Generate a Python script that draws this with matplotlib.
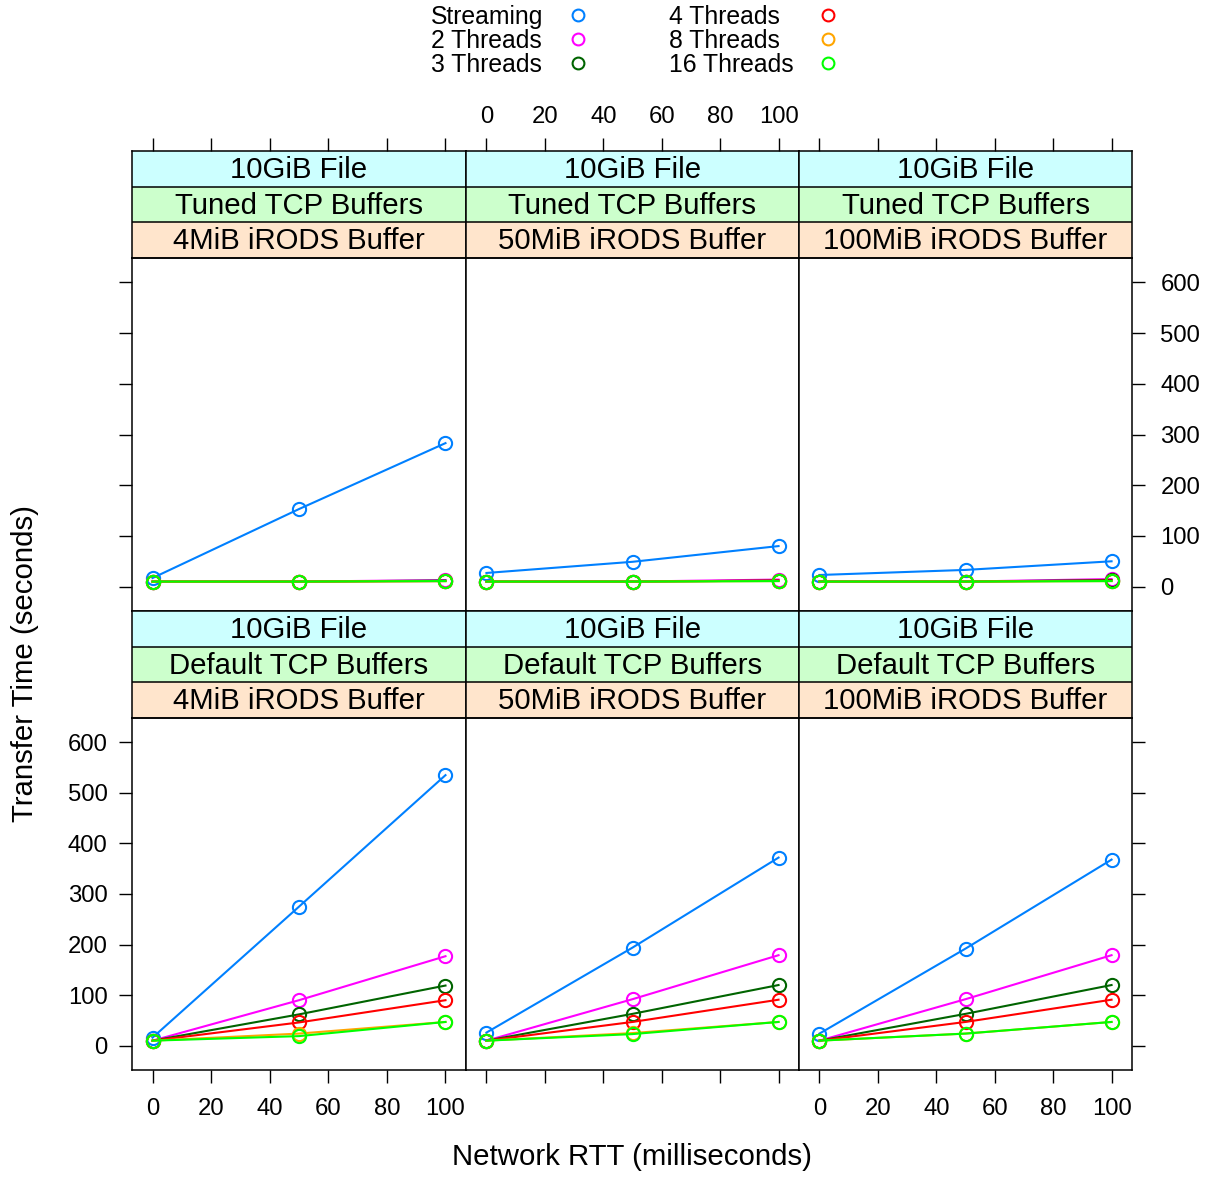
import matplotlib
matplotlib.use("Agg")
import matplotlib.pyplot as plt
from matplotlib.lines import Line2D

plt.rcParams['font.family'] = ['Liberation Sans', 'DejaVu Sans']

# network RTT (ms) on the x axis
rtt = [0, 50, 100]

# panel order: tuned 4/50/100 MiB, then default 4/50/100 MiB
tcp_labels = ['Tuned TCP Buffers', 'Tuned TCP Buffers', 'Tuned TCP Buffers',
              'Default TCP Buffers', 'Default TCP Buffers', 'Default TCP Buffers']
irods_labels = ['4MiB iRODS Buffer', '50MiB iRODS Buffer', '100MiB iRODS Buffer',
                '4MiB iRODS Buffer', '50MiB iRODS Buffer', '100MiB iRODS Buffer']
file_label = '10GiB File'

# transfer time (s), one row per panel
streaming = [[17, 153, 283], [27, 49, 80], [23, 33, 50],
             [16, 275, 535], [26, 194, 372], [24, 192, 368]]
threads2 = [[10, 10, 13], [10, 10, 14], [10, 10, 15],
            [10, 90, 177], [10, 92, 179], [10, 92, 179]]
threads3 = [[10, 10, 12], [10, 10, 12], [10, 10, 13],
            [10, 62, 119], [10, 63, 120], [10, 63, 120]]
threads4 = [[10, 10, 11], [10, 10, 12], [10, 10, 12],
            [10, 46, 90], [10, 47, 91], [10, 47, 91]]
threads8 = [[10, 10, 11], [10, 10, 11], [10, 10, 11],
            [10, 24, 47], [10, 25, 47], [10, 24, 47]]
threads16 = [[10, 10, 11], [10, 10, 11], [10, 10, 11],
             [10, 19, 47], [10, 23, 47], [10, 24, 47]]

series_names = ['Streaming', '2 Threads', '3 Threads', '4 Threads', '8 Threads', '16 Threads']
series_data = [streaming, threads2, threads3, threads4, threads8, threads16]
colors = ['#0080ff', '#ff00ff', '#006400', '#ff0000', '#ffa500', '#00ff00']

strip_colors = ['#ccffff', '#ccffcc', '#ffe5cc']
xticks = [0, 20, 40, 60, 80, 100]
yticks = [0, 100, 200, 300, 400, 500, 600]
XLIM = (-7, 107)
YLIM = (-48, 648)

W, H = 1211, 1178
fig = plt.figure(figsize=(W / 100, H / 100), dpi=100)


def add_ax(x0, y0, x1, y1):
    return fig.add_axes([x0 / W, 1 - y1 / H, (x1 - x0) / W, (y1 - y0) / H])


cols = [132, 466, 799, 1132]
rows = [(151, 258, 611), (611, 718, 1070)]  # strip top, panel top, panel bottom
tick_fs = 17.2
strip_fs = 21.2
leg_fs = 17.8
tick_kw = dict(direction='out', length=9.5, width=1, labelsize=tick_fs, colors='black')

for r, (s_top, p_top, p_bot) in enumerate(rows):
    for c in range(3):
        k = r * 3 + c
        ax = add_ax(cols[c], p_top, cols[c + 1], p_bot)
        for name, data, col in zip(series_names, series_data, colors):
            ax.plot(rtt, data[k], color=col, lw=1.5, marker='o', ms=9.5,
                    mfc='none', mec=col, mew=1.5)
        ax.set_xlim(*XLIM)
        ax.set_ylim(*YLIM)
        for sp in ax.spines.values():
            sp.set_linewidth(1.1)
        ax.tick_params(**tick_kw)

        # x ticks
        ax.set_xticks(xticks)
        if r == 1:
            ax.tick_params(axis='x', bottom=True, labelbottom=(c != 1), top=False, pad=10.5)
        else:
            ax.tick_params(axis='x', bottom=False, labelbottom=False, top=False)

        # y ticks: labels on the right for the top row, on the left for the bottom row
        ax.set_yticks(yticks)
        ax.tick_params(axis='y', left=(c == 0), right=(c == 2), pad=(11 if r == 0 else 8),
                       labelleft=(c == 0 and r == 1), labelright=(c == 2 and r == 0))

        # strips
        sax = add_ax(cols[c], s_top, cols[c + 1], p_top)
        sax.set_xlim(*XLIM)
        sax.set_ylim(0, 3)
        labels = [file_label, tcp_labels[k], irods_labels[k]]
        for i, (lab, sc) in enumerate(zip(labels, strip_colors)):
            y0 = 2 - i
            sax.axhspan(y0, y0 + 1, color=sc, lw=0)
            sax.axhline(y0, color='black', lw=1.1)
            sax.text(50, y0 + 0.47, lab, ha='center', va='center', fontsize=strip_fs)
        for sp in sax.spines.values():
            sp.set_linewidth(1.1)
        sax.set_yticks([])
        sax.tick_params(**tick_kw)
        sax.set_xticks(xticks)
        if r == 0:
            sax.tick_params(axis='x', top=True, labeltop=(c == 1), bottom=False,
                            labelbottom=False, pad=7)
        else:
            sax.tick_params(axis='x', top=False, labeltop=False, bottom=False, labelbottom=False)

# legend (key) on top
leg_text_x = [431, 669]
leg_mark_x = [578, 828]
leg_row_y = [17, 41, 65]
for i, (name, col) in enumerate(zip(series_names, colors)):
    cc, rr = divmod(i, 3)
    fig.text(leg_text_x[cc] / W, 1 - leg_row_y[rr] / H, name, ha='left', va='center',
             fontsize=leg_fs)
    fig.add_artist(Line2D([leg_mark_x[cc] / W], [1 - (leg_row_y[rr] - 2) / H], marker='o',
                          ms=8.5, mfc='none', mec=col, mew=1.5, transform=fig.transFigure))

fig.text(632 / W, 1 - 1157 / H, 'Network RTT (milliseconds)', ha='center', va='center',
         fontsize=strip_fs)
fig.text(25 / W, 1 - 664 / H, 'Transfer Time (seconds)', ha='center', va='center',
         rotation=90, fontsize=strip_fs)

fig.savefig('out.png', dpi=100)
